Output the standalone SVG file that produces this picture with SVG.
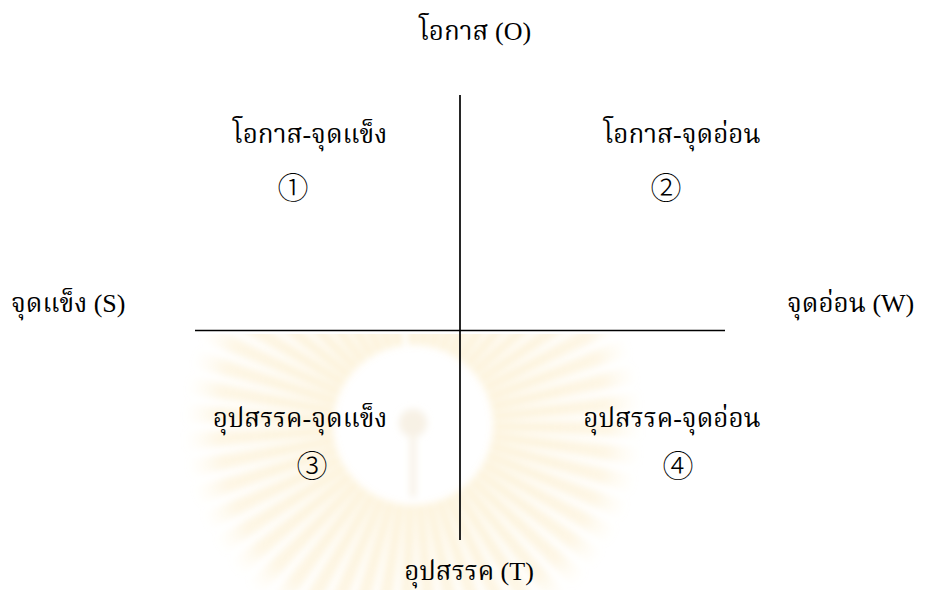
<svg xmlns="http://www.w3.org/2000/svg" width="925" height="590" viewBox="0 0 925 590">
<style>
  .t { font-family: "Liberation Serif", "Noto Serif Thai", "Norasi", "Loma", "Noto Serif", serif; font-size: 26px; fill: #000; }
  .c { text-anchor: middle; }
  .n { font-family: "Noto Sans CJK JP", "DejaVu Sans", sans-serif; font-size: 31px; font-weight: 300; text-anchor: middle; fill: #000; }
  .ln { stroke: #000; stroke-width: 1.7; fill: none; }
</style>
<defs>
  <filter id="blur" x="-20%" y="-20%" width="140%" height="140%"><feGaussianBlur stdDeviation="3.5"/></filter>
  <clipPath id="wmclip"><rect x="0" y="334" width="925" height="256"/></clipPath>
  <radialGradient id="fade" gradientUnits="userSpaceOnUse" cx="0" cy="0" r="230">
    <stop offset="0.35" stop-color="#f6d27e" stop-opacity="0.3"/>
    <stop offset="0.85" stop-color="#f8dc95" stop-opacity="0.24"/>
    <stop offset="1" stop-color="#fbe8b8" stop-opacity="0"/>
  </radialGradient>
  <polygon id="ray" points="-4,-80 4,-80 9,-228 -9,-228"/>
</defs>
<rect width="925" height="590" fill="#fff"/>
<g id="watermark" clip-path="url(#wmclip)" filter="url(#blur)">
  <g transform="translate(413,425)" fill="url(#fade)">
    <use href="#ray" transform="rotate(0)"/><use href="#ray" transform="rotate(7)"/><use href="#ray" transform="rotate(14)"/><use href="#ray" transform="rotate(21)"/><use href="#ray" transform="rotate(28)"/><use href="#ray" transform="rotate(35)"/><use href="#ray" transform="rotate(42)"/><use href="#ray" transform="rotate(49)"/><use href="#ray" transform="rotate(56)"/><use href="#ray" transform="rotate(63)"/><use href="#ray" transform="rotate(70)"/><use href="#ray" transform="rotate(77)"/><use href="#ray" transform="rotate(84)"/><use href="#ray" transform="rotate(91)"/><use href="#ray" transform="rotate(98)"/><use href="#ray" transform="rotate(105)"/><use href="#ray" transform="rotate(112)"/><use href="#ray" transform="rotate(119)"/><use href="#ray" transform="rotate(126)"/><use href="#ray" transform="rotate(133)"/><use href="#ray" transform="rotate(140)"/><use href="#ray" transform="rotate(147)"/><use href="#ray" transform="rotate(154)"/><use href="#ray" transform="rotate(161)"/><use href="#ray" transform="rotate(168)"/><use href="#ray" transform="rotate(175)"/><use href="#ray" transform="rotate(182)"/><use href="#ray" transform="rotate(189)"/><use href="#ray" transform="rotate(196)"/><use href="#ray" transform="rotate(203)"/><use href="#ray" transform="rotate(210)"/><use href="#ray" transform="rotate(217)"/><use href="#ray" transform="rotate(224)"/><use href="#ray" transform="rotate(231)"/><use href="#ray" transform="rotate(238)"/><use href="#ray" transform="rotate(245)"/><use href="#ray" transform="rotate(252)"/><use href="#ray" transform="rotate(259)"/><use href="#ray" transform="rotate(266)"/><use href="#ray" transform="rotate(273)"/><use href="#ray" transform="rotate(280)"/><use href="#ray" transform="rotate(287)"/><use href="#ray" transform="rotate(294)"/><use href="#ray" transform="rotate(301)"/><use href="#ray" transform="rotate(308)"/><use href="#ray" transform="rotate(315)"/><use href="#ray" transform="rotate(322)"/><use href="#ray" transform="rotate(329)"/><use href="#ray" transform="rotate(336)"/><use href="#ray" transform="rotate(343)"/><use href="#ray" transform="rotate(350)"/>
  </g>
  <g transform="translate(413,425)" fill="#efe4cc" opacity="0.5">
    <circle cx="0" cy="-2" r="14"/>
    <rect x="-3" y="12" width="6" height="60"/>
  </g>
</g>
<g id="connectors">
  <line class="ln" x1="460" y1="95" x2="460" y2="540"/>
  <line class="ln" x1="195" y1="330.5" x2="725" y2="330.5"/>
</g>
<g id="axis-O"><text class="t c" x="475" y="40">โอกาส (O)</text></g>
<g id="axis-T"><text class="t c" x="469" y="580">อุปสรรค (T)</text></g>
<g id="axis-S"><text class="t" x="11" y="312">จุดแข็ง (S)</text></g>
<g id="axis-W"><text class="t" x="787" y="312">จุดอ่อน (W)</text></g>
<g id="q1"><text class="t c" x="310" y="143">โอกาส-จุดแข็ง</text><text class="n" x="293" y="199">①</text></g>
<g id="q2"><text class="t c" x="682" y="143">โอกาส-จุดอ่อน</text><text class="n" x="666" y="199">②</text></g>
<g id="q3"><text class="t c" x="300" y="427">อุปสรรค-จุดแข็ง</text><text class="n" x="312" y="477">③</text></g>
<g id="q4"><text class="t c" x="672" y="427">อุปสรรค-จุดอ่อน</text><text class="n" x="678" y="477">④</text></g>
</svg>
